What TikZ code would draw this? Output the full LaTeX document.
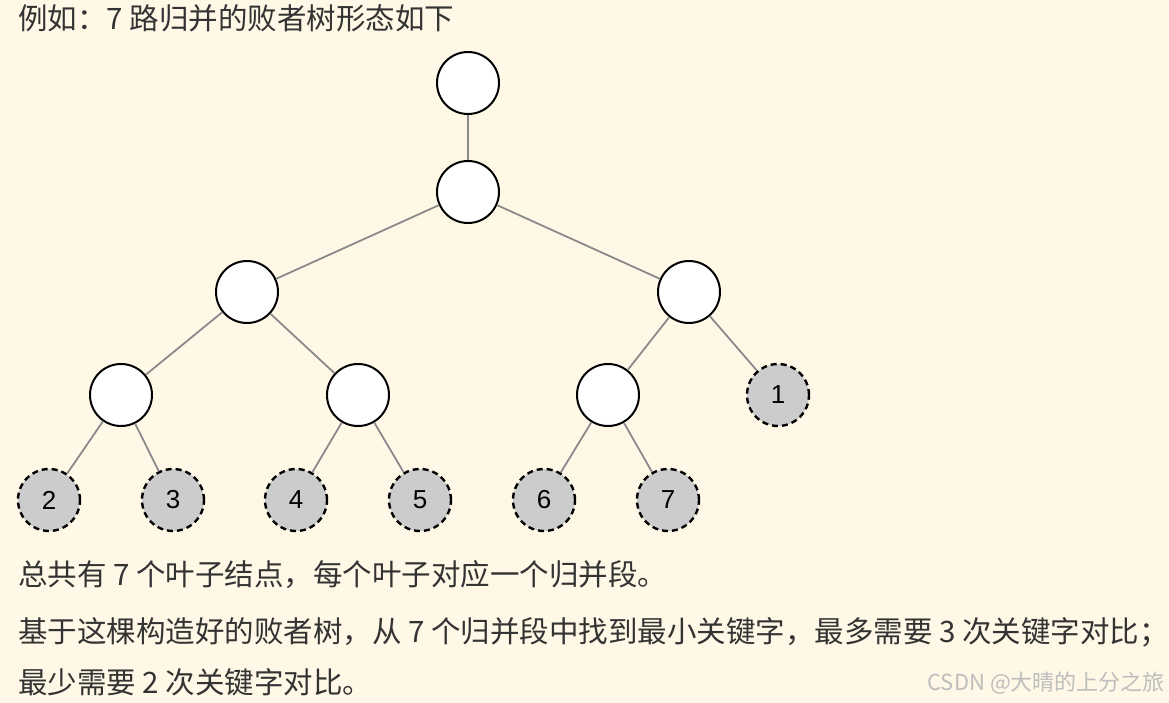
\documentclass[tikz,border=0pt]{standalone}
\usepackage{fontspec}
\setmainfont{Liberation Sans}
\newfontfamily\cjk{Noto Sans CJK SC}
\usetikzlibrary{positioning}
\definecolor{fondo}{HTML}{FFF8E6}
\definecolor{tinta}{HTML}{333333}
\definecolor{gris}{HTML}{8A8A8A}
\definecolor{hojagris}{HTML}{CCCCCC}
\definecolor{marca}{HTML}{BDBDBD}
\tikzset{
  nodo/.style={circle,draw=black,line width=2pt,fill=white,minimum size=62pt,inner sep=0pt},
  hoja/.style={nodo,fill=hojagris,line width=2.4pt,dash pattern=on 6pt off 4pt,font=\fontsize{26}{26}\selectfont},
  arista/.style={draw=gris,line width=1.8pt},
  texto/.style={anchor=west,inner sep=0pt,text=tinta,font=\cjk\fontsize{29.5}{32}\selectfont},
}
\begin{document}
\begin{tikzpicture}[x=1pt,y=1pt]
  \fill[fondo] (0,0) rectangle (1169,-703);
  \useasboundingbox (0,0) rectangle (1169,-703);
  \node[texto] (titulo) at (18,-18) {例如：7 路归并的败者树形态如下};
  % nodos internos
  \node[nodo] (raiz) at (468,-83) {};
  \node[nodo] (n1) at (468,-192) {};
  \node[nodo] (n2) at (247,-292) {};
  \node[nodo] (n3) at (689,-292) {};
  \node[nodo] (n4) at (121,-395) {};
  \node[nodo] (n5) at (358,-395) {};
  \node[nodo] (n6) at (608,-395) {};
  % hojas
  \node[hoja] (h1) at (778,-395) {1};
  \foreach \k/\x in {2/49,3/173,4/296,5/420,6/544,7/668}
    \node[hoja] (h\k) at (\x,-500) {\k};
  % aristas
  \draw[arista] (raiz) -- (n1);
  \draw[arista] (n1) -- (n2);
  \draw[arista] (n1) -- (n3);
  \draw[arista] (n2) -- (n4);
  \draw[arista] (n2) -- (n5);
  \draw[arista] (n3) -- (n6);
  \draw[arista] (n3) -- (h1);
  \draw[arista] (n4) -- (h2);
  \draw[arista] (n4) -- (h3);
  \draw[arista] (n5) -- (h4);
  \draw[arista] (n5) -- (h5);
  \draw[arista] (n6) -- (h6);
  \draw[arista] (n6) -- (h7);
  % texto de abajo
  \node[texto] (linea1) at (18,-575) {总共有 7 个叶子结点，每个叶子对应一个归并段。};
  \node[texto] (linea2) at (18,-632) {基于这棵构造好的败者树，从 7 个归并段中找到最小关键字，最多需要 3 次关键字对比；};
  \node[texto] (linea3) at (18,-682) {最少需要 2 次关键字对比。};
  \node[anchor=east,inner sep=0pt,text=marca,font=\cjk\fontsize{22}{23}\selectfont] (firma) at (1165,-683) {CSDN @大晴的上分之旅};
\end{tikzpicture}
\end{document}
